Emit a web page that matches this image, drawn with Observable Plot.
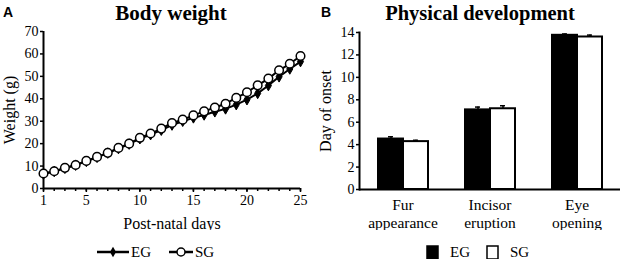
<!DOCTYPE html>
<html>
<head>
<meta charset="utf-8">
<script src="https://cdn.jsdelivr.net/npm/d3@7"></script>
<script src="https://cdn.jsdelivr.net/npm/@observablehq/plot@0.6"></script>
<style>
  html, body { margin: 0; padding: 0; background: #fff; }
  #wrap { position: relative; width: 624px; height: 259px; overflow: hidden; font-family: "Liberation Serif", "Times New Roman", serif; color: #000; }
  #wrap svg, #wrap svg text { font-family: "Liberation Serif", "Times New Roman", serif !important; }
  .panel-letter { position: absolute; top: 4px; font: bold 14px "Liberation Sans", Arial, sans-serif; }
  .title { position: absolute; top: 0px; font-weight: bold; font-size: 21px; text-align: center; line-height: 26px; }
  .plot { position: absolute; top: 25px; }
  .legend { position: absolute; top: 243px; display: flex; align-items: center; font-size: 15px; line-height: 18px; }
  .legend span { margin-right: 6px; }
  .legend svg { display: block; }
</style>
</head>
<body>
<div id="wrap">
  <div class="panel-letter" style="left:3px">A</div>
  <div class="title" style="left:60px;width:222px">Body weight</div>
  <div class="panel-letter" style="left:321px">B</div>
  <div class="title" style="left:370px;width:220px;font-size:20.5px">Physical development</div>
  <div id="left" class="plot" style="left:0px"></div>
  <div id="right" class="plot" style="left:312px"></div>
  <div id="legL" class="legend" style="left:97px"></div>
  <div id="legR" class="legend" style="left:426px"></div>
</div>
<script>
// ---- Panel A data: body weight (g) by post-natal day ----
const days = [1, 2, 3, 4, 5, 6, 7, 8, 9, 10, 11, 12, 13, 14, 15, 16, 17, 18, 19, 20, 21, 22, 23, 24, 25];
const egWeight = [6.5, 7.6, 9.0, 10.4, 12.1, 13.9, 15.8, 17.8, 19.8, 22.2, 24.0, 26.0, 28.3, 30.0, 31.5, 32.8, 34.2, 35.5, 37.4, 39.6, 42.4, 45.9, 49.8, 53.3, 56.6];
const sgWeight = [6.7, 7.7, 9.2, 10.5, 12.3, 14.1, 15.9, 18.1, 20.0, 22.6, 24.5, 26.7, 29.2, 30.7, 32.6, 34.4, 36.1, 37.8, 40.4, 42.9, 46.0, 49.0, 52.7, 55.6, 59.1];
const dayTicks = [1, 5, 10, 15, 20, 25];
const weightTicks = [0, 10, 20, 30, 40, 50, 60, 70];

// ---- Panel B data: day of onset ----
const categories = ["Fur\nappearance", "Incisor\neruption", "Eye\nopening"];
const groups = ["EG", "SG"];
const egOnset = [4.5, 7.1, 13.75];
const egErr = [0.2, 0.25, 0.12];
const sgOnset = [4.27, 7.2, 13.6];
const sgErr = [0.12, 0.27, 0.17];
const onsetTicks = [0, 2, 4, 6, 8, 10, 12, 14];

const FONT = '"Liberation Serif", "Times New Roman", serif';

const egRows = days.map((d, i) => ({day: d, weight: egWeight[i], group: "EG"}));
const sgRows = days.map((d, i) => ({day: d, weight: sgWeight[i], group: "SG"}));

const left = Plot.plot({
  width: 312, height: 205,
  marginTop: 6, marginBottom: 42, marginLeft: 43, marginRight: 12,
  style: {fontFamily: FONT, fontSize: "13.5px", background: "transparent", color: "#000"},
  x: {domain: [1, 25], axis: null},
  y: {domain: [0, 70], axis: null},
  marks: [
    Plot.axisY({ticks: weightTicks, tickSize: 3, tickPadding: 2, label: null, fontSize: 14, fontFamily: FONT, strokeWidth: 1.5}),
    Plot.axisY({ticks: [], label: "Weight (g)", labelAnchor: "center", labelOffset: 40, labelArrow: "none", fontSize: 16, fontFamily: FONT, tickSize: 0, text: null}),
    Plot.axisX({ticks: days, tickSize: 3, text: null, label: null, strokeWidth: 1.5}),
    Plot.axisX({ticks: dayTicks, tickSize: 4, tickPadding: 3, label: null, fontSize: 14, fontFamily: FONT, strokeWidth: 1.5}),
    Plot.axisX({ticks: [], label: "Post-natal days", labelAnchor: "center", labelOffset: 40, labelArrow: "none", fontSize: 16, fontFamily: FONT, tickSize: 0, text: null}),
    Plot.ruleY([0], {stroke: "#000", strokeWidth: 2}),
    Plot.ruleX([1], {stroke: "#000", strokeWidth: 2}),
    Plot.line(egRows, {x: "day", y: "weight", stroke: "#000", strokeWidth: 2}),
    Plot.dot(egRows, {x: "day", y: "weight", symbol: "diamond", r: 3.2, fill: "#000", stroke: "#000", strokeWidth: 1}),
    Plot.line(sgRows, {x: "day", y: "weight", stroke: "#000", strokeWidth: 2}),
    Plot.dot(sgRows, {x: "day", y: "weight", r: 4.3, fill: "#fff", stroke: "#000", strokeWidth: 1.5})
  ]
});
document.getElementById("left").appendChild(left);

const onsetRows = [];
categories.forEach((c, i) => {
  onsetRows.push({category: c, group: "EG", value: egOnset[i], err: egErr[i]});
  onsetRows.push({category: c, group: "SG", value: sgOnset[i], err: sgErr[i]});
});

const right = Plot.plot({
  width: 312, height: 205,
  marginTop: 7, marginBottom: 41, marginLeft: 46, marginRight: 4,
  style: {fontFamily: FONT, fontSize: "13.5px", background: "transparent", color: "#000"},
  fx: {domain: categories, padding: 0, axis: null},
  x: {domain: groups, paddingInner: 0, paddingOuter: 0.71, axis: null},
  y: {domain: [0, 14], axis: null},
  marks: [
    Plot.axisY({ticks: onsetTicks, tickSize: 3, tickPadding: 2, fontSize: 14, fontFamily: FONT, label: null, strokeWidth: 1.5}),
    Plot.axisY({ticks: [], label: "Day of onset", labelAnchor: "center", labelOffset: 40, labelArrow: "none", fontSize: 16, fontFamily: FONT, tickSize: 0, text: null}),
    Plot.axisFx({anchor: "bottom", tickSize: 0, tickPadding: 7, label: null, fontSize: 15.5, fontFamily: FONT, lineHeight: 1.2}),
    Plot.frame({anchor: "left", facetAnchor: "left", stroke: "#000", strokeWidth: 2}),
    Plot.ruleX(onsetRows, {fx: "category", x: "group", y1: "value", y2: d => d.value + d.err, stroke: "#000", strokeWidth: 1.5}),
    Plot.tickY(onsetRows, {fx: "category", x: "group", y: d => d.value + d.err, stroke: "#000", strokeWidth: 1.5, insetLeft: 10, insetRight: 10}),
    Plot.barY(onsetRows, {fx: "category", x: "group", y: "value", fill: d => d.group === "EG" ? "#000" : "#fff", stroke: "#000", strokeWidth: 2}),
    Plot.ruleY([0], {stroke: "#000", strokeWidth: 2})
  ]
});
document.getElementById("right").appendChild(right);

// ---- Legends ----
function lineSwatch(kind) {
  const ns = "http://www.w3.org/2000/svg";
  const s = document.createElementNS(ns, "svg");
  const w = kind === "EG" ? 32 : 24;
  s.setAttribute("width", w);
  s.setAttribute("height", 14);
  s.innerHTML = `<line x1="0" x2="${w}" y1="7" y2="7" stroke="#000" stroke-width="2.5"/>` +
    (kind === "EG"
      ? `<path d="${d3.symbol(d3.symbolDiamond, 32)()}" transform="translate(${w/2},7)" fill="#000"/>`
      : `<circle cx="${w/2}" cy="7" r="4" fill="#fff" stroke="#000" stroke-width="1.5"/>`);
  return s;
}
function boxSwatch(fill) {
  const ns = "http://www.w3.org/2000/svg";
  const s = document.createElementNS(ns, "svg");
  s.setAttribute("width", 13);
  s.setAttribute("height", 15);
  s.innerHTML = `<rect x="1" y="1" width="11" height="13" fill="${fill}" stroke="#000" stroke-width="1.5"/>`;
  return s;
}
const legL = document.getElementById("legL");
groups.forEach((g, i) => {
  legL.appendChild(lineSwatch(g));
  const t = document.createElement("span");
  t.textContent = g;
  t.style.marginLeft = "2px";
  t.style.marginRight = i === 0 ? "18px" : "0";
  legL.appendChild(t);
});
const legR = document.getElementById("legR");
groups.forEach((g, i) => {
  legR.appendChild(boxSwatch(g === "EG" ? "#000" : "#fff"));
  const t = document.createElement("span");
  t.textContent = g;
  t.style.marginLeft = "11px";
  t.style.marginRight = i === 0 ? "16px" : "0";
  legR.appendChild(t);
});
</script>
</body>
</html>
